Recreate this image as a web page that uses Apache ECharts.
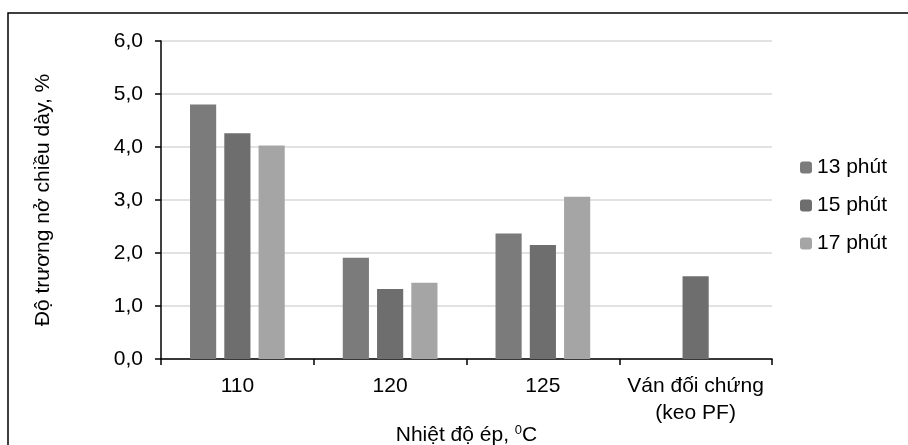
<!DOCTYPE html>
<html><head><meta charset="utf-8">
<script src="https://cdn.jsdelivr.net/npm/echarts@6/dist/echarts.min.js"></script>
<style>html,body{margin:0;padding:0;background:#fff}#c{width:908px;height:445px}</style>
</head><body><div id="c"></div>
<script>
const categories = ['110', '120', '125', 'Ván đối chứng\n(keo PF)'];
const seriesNames = ['13 phút', '15 phút', '17 phút'];
const s13 = [4.80, 1.91, 2.37, null];
const s15 = [4.26, 1.32, 2.15, 1.56];
const s17 = [4.03, 1.44, 3.06, null];
const yTicks = [0, 1, 2, 3, 4, 5, 6];
const colors = ['#7b7b7b', '#6e6e6e', '#a5a5a5'];

const font = 'Liberation Sans, Arial, sans-serif';
const fs = 21;
const chart = echarts.init(document.getElementById('c'));
const mk = (name, data, i) => ({
  name, type: 'bar', data,
  itemStyle: { color: colors[i] },
  barGap: '31%', barCategoryGap: '38%'
});
chart.setOption({
  animation: false,
  textStyle: { fontFamily: font },
  graphic: [{
    type: 'rect', shape: { x: 8, y: 13, width: 1000, height: 600 },
    style: { fill: 'none', stroke: '#000', lineWidth: 1.5 }, z: -1
  }],
  grid: { left: 161, right: 136, top: 41, bottom: 86, outerBoundsMode: 'none', containLabel: false },
  legend: {
    orient: 'vertical', left: 795, top: 152, itemWidth: 12, itemHeight: 12, itemGap: 17,
    textStyle: { fontSize: fs, color: '#000', fontFamily: font, lineHeight: 21 },
    data: seriesNames
  },
  xAxis: {
    type: 'category', data: categories,
    axisLine: { lineStyle: { color: '#000', width: 1.5 } },
    axisTick: { show: true, interval: 0, length: 6, lineStyle: { color: '#000', width: 1.5 } },
    axisLabel: { interval: 0, fontSize: fs, color: '#000', margin: 14, lineHeight: 27, fontFamily: font },
    name: '{a|Nhiệt độ ép, }{s|0}{a|C}', nameLocation: 'middle', nameGap: 65, nameMoveOverlap: false,
    nameTextStyle: { rich: {
      a: { fontSize: fs, color: '#000', fontFamily: font },
      s: { fontSize: 13, color: '#000', fontFamily: font, verticalAlign: 'top', padding: [0, 0, 10, 0] }
    } }
  },
  yAxis: {
    type: 'value', min: yTicks[0], max: yTicks[yTicks.length - 1], interval: 1,
    axisLine: { show: true, lineStyle: { color: '#000', width: 1.5 } },
    axisTick: { show: true, length: 6, lineStyle: { color: '#000', width: 1.5 } },
    splitLine: { lineStyle: { color: '#d9d9d9', width: 1.5 } },
    axisLabel: { fontSize: fs, color: '#000', margin: 18, fontFamily: font,
      formatter: v => v.toFixed(1).replace('.', ',') },
    name: 'Độ trương nở chiều dày, %', nameLocation: 'middle', nameGap: 107, nameRotate: 90, nameMoveOverlap: false,
    nameTextStyle: { fontSize: fs, color: '#000', fontFamily: font }
  },
  series: [mk(seriesNames[0], s13, 0), mk(seriesNames[1], s15, 1), mk(seriesNames[2], s17, 2)]
});
</script></body></html>
